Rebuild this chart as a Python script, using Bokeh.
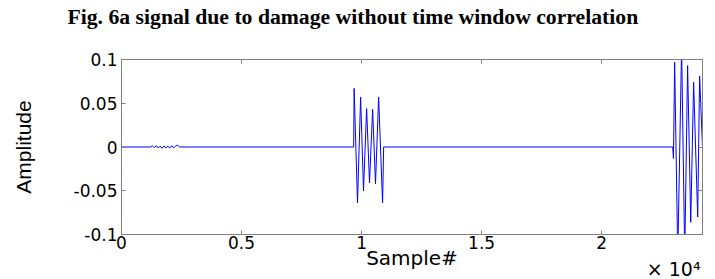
from bokeh.plotting import figure
from bokeh.models import Range1d, FixedTicker, LinearAxis, Title
from bokeh.embed import file_html
from bokeh.resources import INLINE

# ---- data ----
sample = [0,
          1210, 1290, 1370, 1450, 1530, 1610, 1690, 1770, 1850, 1930, 2010, 2090, 2170, 2250, 2330, 2420,
          9670, 9690, 9830, 9960, 10080, 10210, 10330, 10460, 10580, 10710, 10875, 10920,
          22960, 22990, 23040, 23170, 23330, 23460, 23580, 23710, 23830, 24000, 24080, 24200]
amplitude = [0,
             0, 0.0012, -0.0008, 0.0015, -0.0012, 0.001, -0.0015, 0.0012, -0.001, 0.0008, -0.0012, 0.0015, -0.001, 0.0012, 0.002, 0,
             0, 0.067, -0.064, 0.057, -0.050, 0.044, -0.041, 0.043, -0.042, 0.057, -0.064, 0,
             0, -0.013, 0.097, -0.125, 0.115, -0.125, 0.093, -0.086, 0.074, -0.080, 0.081, 0.0]

x_ticks = [0, 5000, 10000, 15000, 20000]
x_tick_labels = ["0", "0.5", "1", "1.5", "2"]
y_ticks = [-0.1, -0.05, 0, 0.05, 0.1]
y_tick_labels = ["-0.1", "-0.05", "0", "0.05", "0.1"]
title_text = "Fig. 6a signal due to damage without time window correlation"
x_label = "Sample#"
x_exponent = "× 10⁴"
y_label = "Amplitude"

FRAME = "#808080"
TICKFONT = "DejaVu Sans"

p = figure(width=715, height=279, output_backend="svg", toolbar_location=None,
           x_range=Range1d(0, 24200), y_range=Range1d(-0.1, 0.1),
           min_border_left=121, min_border_right=13, min_border_top=59, min_border_bottom=45,
           y_axis_label=y_label)

p.title.text = title_text
p.title.text_font = "Liberation Serif"
p.title.text_font_style = "bold"
p.title.text_font_size = "21.7px"
p.title.text_color = "black"
p.title.align = "left"
p.title.offset = -54
p.title.standoff = 2

p.background_fill_color = "white"
p.border_fill_color = "white"
p.outline_line_color = FRAME
p.outline_line_width = 1
p.grid.visible = False

p.line(sample, amplitude, line_color="#0000ff", line_width=1)

xa = p.xaxis[0]
xa.ticker = FixedTicker(ticks=x_ticks)
xa.major_label_overrides = {t: l for t, l in zip(x_ticks, x_tick_labels)}
ya = p.yaxis[0]
ya.ticker = FixedTicker(ticks=y_ticks)
ya.major_label_overrides = {t: l for t, l in zip(y_ticks, y_tick_labels)}

for ax in (xa, ya):
    ax.axis_line_color = FRAME
    ax.major_tick_line_color = FRAME
    ax.major_tick_in = 4
    ax.major_tick_out = 0
    ax.minor_tick_line_color = None
    ax.major_label_text_font = TICKFONT
    ax.major_label_text_font_size = "17px"
    ax.major_label_text_color = "black"
    ax.axis_label_text_font_style = "normal"
    ax.axis_label_text_color = "black"

xa.major_label_standoff = 1
ya.major_label_standoff = 4
ya.axis_label_text_font = "Liberation Sans"
ya.axis_label_text_font_size = "21px"
ya.axis_label_standoff = 36

# mirrored axes (top/right) with inward ticks; their labels are not drawn
top = LinearAxis(ticker=FixedTicker(ticks=x_ticks))
top.major_label_text_color = None
top.major_label_standoff = 0
right = LinearAxis(ticker=FixedTicker(ticks=y_ticks))
right.major_label_overrides = {t: "" for t in y_ticks}
right.major_label_text_color = None
right.major_label_standoff = 0
for ax in (top, right):
    ax.axis_line_color = FRAME
    ax.major_tick_line_color = FRAME
    ax.major_tick_in = 4
    ax.major_tick_out = 0
    ax.minor_tick_line_color = None
p.add_layout(top, "above")
p.add_layout(right, "right")

# blank spacer between the frame and the title (one white outward tick)
spacer = LinearAxis(ticker=FixedTicker(ticks=[x_ticks[2]]))
spacer.axis_line_color = None
spacer.major_tick_line_color = "white"
spacer.major_tick_in = 0
spacer.major_tick_out = 30
spacer.minor_tick_line_color = None
spacer.major_label_text_color = None
spacer.major_label_standoff = 0
p.add_layout(spacer, "above")

# x-axis title and exponent, as below-panel titles
t1 = Title(text=x_label, align="center", vertical_align="top", standoff=-11.6,
           text_font=TICKFONT, text_font_size="20px", text_font_style="normal",
           text_color="black")
t2 = Title(text=x_exponent, align="right", offset=2, vertical_align="top", standoff=-14.6,
           text_font=TICKFONT, text_font_size="19px", text_font_style="normal",
           text_color="black")
p.add_layout(t1, "below")
p.add_layout(t2, "below")

open("out.html", "w").write(file_html(p, INLINE))
